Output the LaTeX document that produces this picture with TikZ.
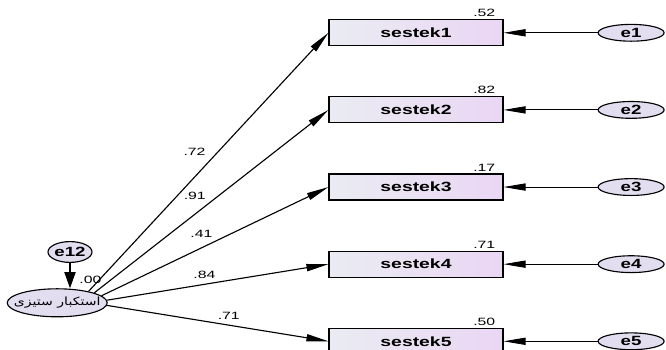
\documentclass[tikz,border=0pt]{standalone}
\usepackage{fontspec}
\usepackage{graphicx}
\setmainfont{Liberation Sans}
\newfontfamily\farsifont[Script=Arabic]{DejaVu Sans}
\TeXXeTstate=1
\usetikzlibrary{positioning, shapes, arrows.meta}
\definecolor{my_lavender}{RGB}{226, 222, 240}
\definecolor{my_pink}{RGB}{234, 214, 244}
\definecolor{my_grey}{RGB}{234, 236, 242}
\newcommand{\widetxt}[2][1.45]{\scalebox{#1}[1]{#2}}
\tikzset {
  box/.style = {draw, thick, rectangle, minimum height=0.65cm, minimum width=4.35cm, left color=my_grey, right color=my_pink, font=\fontsize{9.5}{11}\selectfont\bfseries},
  latent/.style = {draw, thick, ellipse, fill=my_lavender, minimum width=2.5cm, minimum height=0.7cm, inner sep=0pt},
  err/.style = {draw, thick, ellipse, fill=my_lavender, minimum width=1.65cm, minimum height=0.42cm, inner sep=0pt, font=\fontsize{9.5}{11}\selectfont\bfseries},
  line/.style = {-{Triangle[length=0.55cm, width=0.18cm]}, line width=0.8pt, color=black},
  errline/.style = {-{Triangle[length=0.55cm, width=0.18cm]}, line width=0.6pt, color=black},
  coef/.style = {font=\fontsize{7.5}{9}\selectfont, inner sep=0pt}
}

\begin{document}
\begin{tikzpicture}[node distance=1.25cm]
    \useasboundingbox (0,0) rectangle (16.65,8.75);

    \node[box] (s1) at (10.4,7.93) {\widetxt{sestek1}};
    \node[box, below=of s1] (s2) {\widetxt{sestek2}};
    \node[box, below=of s2] (s3) {\widetxt{sestek3}};
    \node[box, below=of s3] (s4) {\widetxt{sestek4}};
    \node[box, below=of s4] (s5) {\widetxt{sestek5}};

    \node[err, right=2.35cm of s1] (e1) {\widetxt[1.4]{e1}};
    \node[err, right=2.35cm of s2] (e2) {\widetxt[1.4]{e2}};
    \node[err, right=2.35cm of s3] (e3) {\widetxt[1.4]{e3}};
    \node[err, right=2.35cm of s4] (e4) {\widetxt[1.4]{e4}};
    \node[err, right=2.35cm of s5] (e5) {\widetxt[1.4]{e5}};

    \node[latent] (astekbar) at (1.43,1.18) {\makebox[0pt]{\fontsize{8}{9}\farsifont\widetxt[1.25]{\beginR استکبار ستیزی\endR}}};
    \node[err, minimum width=1.1cm, minimum height=0.52cm] (e12) at (1.75,2.45) {\makebox[0pt]{\widetxt[1.4]{e12}}};

    % squared multiple correlations
    \node[coef, anchor=south east] at ([xshift=-0.2cm, yshift=1.5pt]s1.north east) {\widetxt[1.5]{.52}};
    \node[coef, anchor=south east] at ([xshift=-0.2cm, yshift=1.5pt]s2.north east) {\widetxt[1.5]{.82}};
    \node[coef, anchor=south east] at ([xshift=-0.2cm, yshift=1.5pt]s3.north east) {\widetxt[1.5]{.17}};
    \node[coef, anchor=south east] at ([xshift=-0.2cm, yshift=1.5pt]s4.north east) {\widetxt[1.5]{.71}};
    \node[coef, anchor=south east] at ([xshift=-0.2cm, yshift=1.5pt]s5.north east) {\widetxt[1.5]{.50}};
    \node[coef, anchor=west] at ([xshift=0.55cm, yshift=0.2cm]astekbar.north) {\widetxt[1.5]{.00}};

    \draw[line] (astekbar.20) -- node[coef, pos=0.54, left=0.3cm] {\widetxt[1.5]{.72}} (s1.west);
    \draw[line] (astekbar.15) -- node[coef, pos=0.53, left=0.3cm] {\widetxt[1.5]{.91}} (s2.west);
    \draw[line] (astekbar.9) -- node[coef, pos=0.44, above=0.25cm] {\widetxt[1.5]{.41}} (s3.west);
    \draw[line] (astekbar.3) -- node[coef, pos=0.44, above=0.12cm] {\widetxt[1.5]{.84}} (s4.west);
    \draw[line] (astekbar.-3) -- node[coef, pos=0.55, above=0.12cm] {\widetxt[1.5]{.71}} (s5.west);

    \draw[errline] (e1) -- (s1);
    \draw[errline] (e2) -- (s2);
    \draw[errline] (e3) -- (s3);
    \draw[errline] (e4) -- (s4);
    \draw[errline] (e5) -- (s5);
    \draw[-{Triangle[length=0.4cm, width=0.28cm]}, line width=0.8pt] (e12.south) -- (astekbar.north -| e12.south);

\end{tikzpicture}
\end{document}
